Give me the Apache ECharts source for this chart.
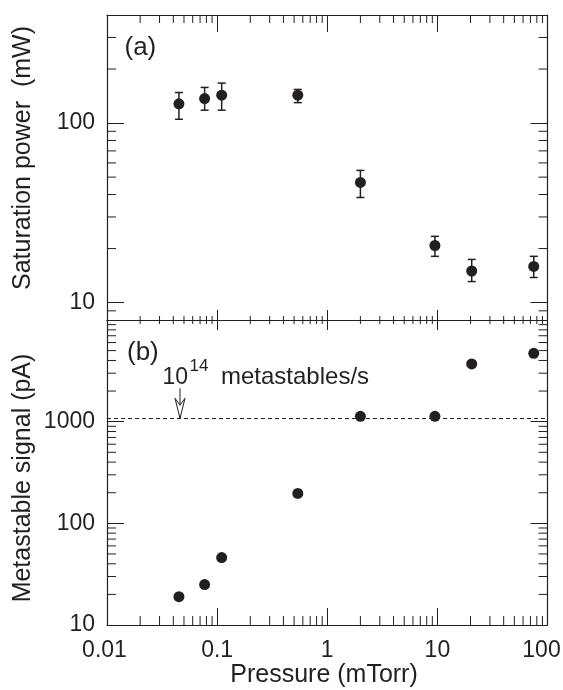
<!DOCTYPE html>
<html><head><meta charset="utf-8">
<script src="https://cdn.jsdelivr.net/npm/echarts@6/dist/echarts.min.js"></script>
<style>html,body{margin:0;padding:0;background:#fff}#c{width:563px;height:690px}</style>
</head><body><div id="c"></div>
<script>
// ---- data ----
const pressure = [0.045, 0.077, 0.11, 0.54, 2.0, 9.5, 20.5, 75];
const satPower = [128, 137, 143, 143, 46.7, 20.8, 15.0, 15.9];
const satLow   = [105, 118, 118, 130, 38.5, 18.1, 13.1, 13.8];
const satHigh  = [148, 158, 167, 154, 54.5, 23.4, 17.4, 18.1];
const metaSignal = [19, 25, 46, 197, 1130, 1130, 3700, 4700];
const thresholdSignal = 1080;
const thresholdPressure = 0.046;
const xRange = [0.01, 100];
const topYRange = [8, 400];
const botYRange = [10, 10000];
const xMinorTicks = [0.02,0.03,0.04,0.05,0.06,0.07,0.08,0.09,
                     0.2,0.3,0.4,0.5,0.6,0.7,0.8,0.9,
                     2,3,4,5,6,7,8,9,
                     20,30,40,50,60,70,80,90];
const topYMinorTicks = [9,20,30,40,50,60,70,80,90,200,300];
const botYMinorTicks = [20,30,40,50,60,70,80,90,200,300,400,500,600,700,800,900,
                        2000,3000,4000,5000,6000,7000,8000,9000];
const xTitle = 'Pressure (mTorr)';
const yTitleTop = 'Saturation power  (mW)';
const yTitleBottom = 'Metastable signal (pA)';

// ---- style ----
const ink = '#231f20';
const FONT = "'Liberation Sans', Arial, Helvetica, sans-serif";
const MAJOR = 17, MINOR = 8, DIV_MAJOR = 10, DIV_MINOR = 4;
const TICKFS = 23, TITLEFS = 25;

const chart = echarts.init(document.getElementById('c'), null, {renderer:'canvas'});

function fmt(v){ return String(+(+v).toPrecision(6)); }

function xAxisDef(grid, pos, tickLen, showLabel) {
  return {
    type:'log', logBase:10, gridIndex:grid, position:pos, min:xRange[0], max:xRange[1],
    axisLine:{show:true, onZero:false, lineStyle:{color:ink, width:1.2}},
    axisTick:{show:true, inside:true, length:tickLen, lineStyle:{color:ink, width:1}},
    minorTick:{show:false}, splitLine:{show:false},
    axisLabel:{show:showLabel, color:ink, fontSize:TICKFS, fontFamily:FONT, margin:14,
      showMinLabel:true, showMaxLabel:true, hideOverlap:false,
      formatter:v => {
        const s = fmt(v);
        if (+v >= xRange[1]) return '{r|' + s + '}';
        if (+v <= xRange[0]) return '{l|' + s + '}';
        return s;
      },
      rich:{
        r:{fontSize:TICKFS, fontFamily:FONT, color:ink, padding:[0,12,0,0]},
        l:{fontSize:TICKFS, fontFamily:FONT, color:ink, padding:[0,5,0,0]}
      }}
  };
}
function yAxisDef(grid, pos, range, showLabel, hideMin, hideMax) {
  return {
    type:'log', logBase:10, gridIndex:grid, position:pos, min:range[0], max:range[1],
    axisLine:{show:true, onZero:false, lineStyle:{color:ink, width:1.2}},
    axisTick:{show:true, inside:true, length:MAJOR, lineStyle:{color:ink, width:1}},
    minorTick:{show:false}, splitLine:{show:false},
    axisLabel:{show:showLabel, color:ink, fontSize:TICKFS, fontFamily:FONT, margin:12,
      showMinLabel:!hideMin, showMaxLabel:!hideMax, hideOverlap:false,
      formatter:v => fmt(v)}
  };
}

function xMinorSeries(axisIdx, yRange, lenBottom, lenTop) {
  return {
    type:'custom', xAxisIndex:axisIdx, yAxisIndex:axisIdx, silent:true, z:1,
    data: xMinorTicks.map(v => [v, yRange[0]]),
    renderItem:(params, api) => {
      const v = api.value(0);
      const b = api.coord([v, yRange[0]]), t = api.coord([v, yRange[1]]);
      return {type:'group', children:[
        {type:'line', shape:{x1:b[0], y1:b[1], x2:b[0], y2:b[1]-lenBottom}, style:{stroke:ink, lineWidth:1}},
        {type:'line', shape:{x1:t[0], y1:t[1], x2:t[0], y2:t[1]+lenTop}, style:{stroke:ink, lineWidth:1}}
      ]};
    }
  };
}
function yMinorSeries(axisIdx, ticks) {
  return {
    type:'custom', xAxisIndex:axisIdx, yAxisIndex:axisIdx, silent:true, z:1,
    data: ticks.map(v => [xRange[0], v]),
    renderItem:(params, api) => {
      const v = api.value(1);
      const l = api.coord([xRange[0], v]), r = api.coord([xRange[1], v]);
      return {type:'group', children:[
        {type:'line', shape:{x1:l[0], y1:l[1], x2:l[0]+MINOR+1, y2:l[1]}, style:{stroke:ink, lineWidth:1}},
        {type:'line', shape:{x1:r[0], y1:r[1], x2:r[0]-MINOR-1, y2:r[1]}, style:{stroke:ink, lineWidth:1}}
      ]};
    }
  };
}

const option = {
  animation:false,
  backgroundColor:'#fff',
  textStyle:{fontFamily:FONT, color:ink},
  grid:[
    {left:107, top:15, width:440.5, height:305, containLabel:false, outerBoundsMode:'none'},
    {left:107, top:320, width:440.5, height:305, containLabel:false, outerBoundsMode:'none'}
  ],
  xAxis:[
    xAxisDef(0, 'bottom', DIV_MAJOR, false),
    xAxisDef(0, 'top', MAJOR, false),
    xAxisDef(1, 'bottom', MAJOR, true),
    xAxisDef(1, 'top', DIV_MAJOR, false)
  ],
  yAxis:[
    yAxisDef(0, 'left', topYRange, true, true, true),
    yAxisDef(0, 'right', topYRange, false),
    yAxisDef(1, 'left', botYRange, true, false, true),
    yAxisDef(1, 'right', botYRange, false)
  ],
  graphic:[
    {type:'text', x:124.5, y:48, style:{text:'(a)', fontSize:26, fontFamily:FONT, fill:ink, align:'left', verticalAlign:'middle'}},
    {type:'text', x:127, y:352.5, style:{text:'(b)', fontSize:26, fontFamily:FONT, fill:ink, align:'left', verticalAlign:'middle'}},
    {type:'text', x:324, y:675, style:{text:xTitle, fontSize:TITLEFS, fontFamily:FONT, fill:ink, align:'center', verticalAlign:'middle'}},
    {type:'text', x:23, y:158, rotation:Math.PI/2, style:{text:yTitleTop, fontSize:TITLEFS, fontFamily:FONT, fill:ink, align:'center', verticalAlign:'middle'}},
    {type:'text', x:23, y:478, rotation:Math.PI/2, style:{text:yTitleBottom, fontSize:TITLEFS, fontFamily:FONT, fill:ink, align:'center', verticalAlign:'middle'}}
  ],
  series:[
    xMinorSeries(0, topYRange, DIV_MINOR, MINOR),
    yMinorSeries(0, topYMinorTicks),
    {
      type:'custom', xAxisIndex:0, yAxisIndex:0, silent:true, z:3,
      data: pressure.map((p,i) => [p, satLow[i], satHigh[i]]),
      renderItem:(params, api) => {
        const x = api.value(0);
        const lo = api.coord([x, api.value(1)]), hi = api.coord([x, api.value(2)]);
        const w = 4;
        return {type:'group', children:[
          {type:'line', shape:{x1:lo[0], y1:lo[1], x2:hi[0], y2:hi[1]}, style:{stroke:ink, lineWidth:1.5}},
          {type:'line', shape:{x1:lo[0]-w, y1:lo[1], x2:lo[0]+w, y2:lo[1]}, style:{stroke:ink, lineWidth:1.5}},
          {type:'line', shape:{x1:hi[0]-w, y1:hi[1], x2:hi[0]+w, y2:hi[1]}, style:{stroke:ink, lineWidth:1.5}}
        ]};
      }
    },
    {
      type:'scatter', xAxisIndex:0, yAxisIndex:0, z:4, symbol:'circle', symbolSize:11,
      itemStyle:{color:ink, opacity:1},
      data: pressure.map((p,i) => [p, satPower[i]])
    },
    xMinorSeries(2, botYRange, MINOR + 1, DIV_MINOR),
    yMinorSeries(2, botYMinorTicks),
    {
      type:'scatter', xAxisIndex:2, yAxisIndex:2, z:4, symbol:'circle', symbolSize:11,
      itemStyle:{color:ink, opacity:1},
      data: pressure.map((p,i) => [p, metaSignal[i]]),
      markLine:{
        silent:true, symbol:['none','none'], label:{show:false},
        lineStyle:{color:ink, type:[4,3], width:1.2},
        data:[{yAxis:thresholdSignal}]
      }
    },
    {
      type:'custom', xAxisIndex:2, yAxisIndex:2, silent:true, z:5,
      data:[[thresholdPressure, thresholdSignal]],
      renderItem:(params, api) => {
        const c = api.coord([api.value(0), api.value(1)]);
        const ax = c[0], ty = c[1];
        return {type:'group', children:[
          {type:'line', shape:{x1:ax, y1:ty-30, x2:ax, y2:ty}, style:{stroke:ink, lineWidth:1}},
          {type:'polygon', shape:{points:[[ax-5,ty-20],[ax,ty],[ax+5,ty-20],[ax,ty-13]]},
           style:{fill:'#fff', stroke:ink, lineWidth:1}},
          {type:'text', x:ax-17.5, y:ty-41, style:{text:'10', fontSize:23, fontFamily:FONT, fill:ink, align:'left', verticalAlign:'middle'}},
          {type:'text', x:ax+9.5, y:ty-52, style:{text:'14', fontSize:17, fontFamily:FONT, fill:ink, align:'left', verticalAlign:'middle'}},
          {type:'text', x:ax+41, y:ty-41, style:{text:'metastables/s', fontSize:24, fontFamily:FONT, fill:ink, align:'left', verticalAlign:'middle'}}
        ]};
      }
    }
  ]
};
chart.setOption(option);
</script>
</body></html>
